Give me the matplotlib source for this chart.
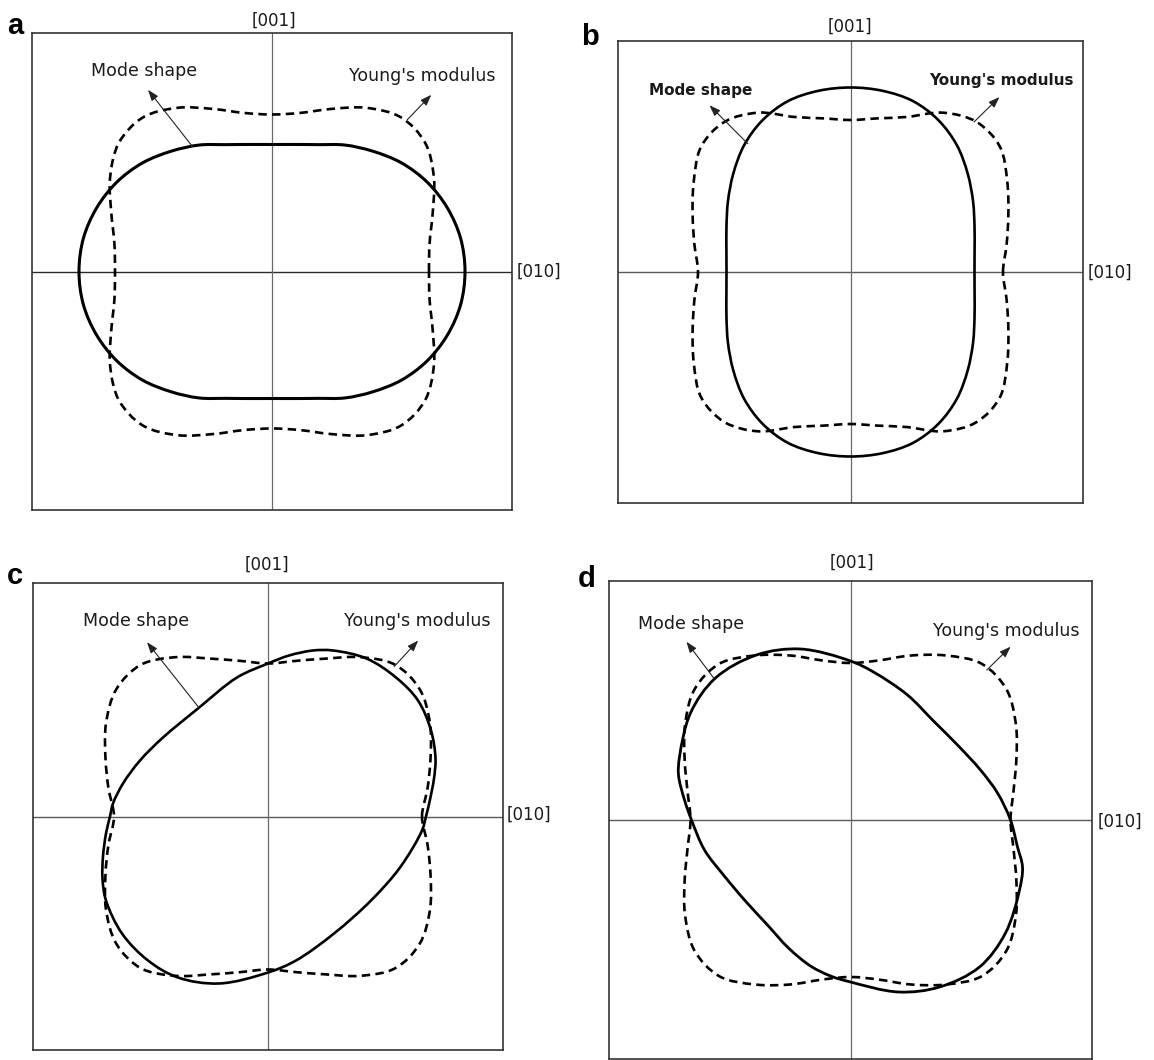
import numpy as np
import matplotlib
matplotlib.use("Agg")
import matplotlib.pyplot as plt
from matplotlib.path import Path
from matplotlib.patches import PathPatch

# ---------------- data (pixel-like units from panel centre) -------------
ANGLES_DEG = list(range(0, 360, 10))

# panel a : polar radii every 10 deg
A_MODE_R = [193, 191.5, 186.5, 179, 169, 157, 146, 135, 129, 127, 129, 135, 146, 157, 169, 179, 186.5, 191.5,
            193, 191.5, 186.5, 179, 169, 157, 146, 135, 129, 127, 129, 135, 146, 157, 169, 179, 186.5, 191.5]
A_YOUNG_R = [157, 160, 171, 187, 200, 201, 189, 173, 161, 157, 161, 173, 189, 201, 200, 187, 171, 160,
             157, 160, 171, 187, 200, 201, 189, 173, 161, 157, 161, 173, 189, 201, 200, 187, 171, 160]
# panel b
B_MODE_R = [124, 126, 132, 141.5, 153, 165.5, 175.5, 182, 184, 184.5, 184, 182, 175.5, 165.5, 153, 141.5, 132, 126,
            124, 126, 132, 141.5, 153, 165.5, 175.5, 182, 184, 184.5, 184, 182, 175.5, 165.5, 153, 141.5, 132, 126]
B_YOUNG_R = [152.5, 158.5, 168, 181, 195, 196, 184, 165, 156, 152, 156, 165, 184, 196, 195, 181, 168, 158.5,
             152.5, 158.5, 168, 181, 195, 196, 184, 165, 156, 152, 156, 165, 184, 196, 195, 181, 168, 158.5]
# panel c
C_MODE_X = [158, 162, 166, 167.5, 163, 150, 128, 98.5, 65, 45, 21, 0, -31, -70, -105, -128, -145, -155, -158,
            -162, -165, -165.5, -162, -146, -120, -90, -49, 0, 28, 66, 103, 132, 154]
C_MODE_Y = [0, 17, 38, 58, 86, 116, 139, 158, 166, 166, 161, 153, 139, 108, 79, 56, 33, 13, 0,
            -17, -40, -62, -84, -117, -144, -161, -167, -156, -144, -117, -84, -51, -14]
C_YOUNG_R = [154, 162, 173, 187, 198, 198, 184, 168, 158, 153, 158, 168, 184, 198, 198, 187, 173, 162,
             154, 162, 173, 187, 198, 198, 184, 168, 158, 153, 158, 168, 184, 198, 198, 187, 173, 162]
# panel d
D_MODE_X = [160, 147, 130, 107, 83, 57, 23, 0, -50, -94, -135, -160, -171, -172, -166, -159,
            -146, -127, -106, -83, -62, -40, -20, 0, 48, 89, 129, 155, 169, 172, 167]
D_MODE_Y = [0, 27, 50, 75, 99, 125, 148, 159, 171, 165, 142, 107, 63, 45, 20, 0,
            -30, -55, -80, -105, -128, -146, -156, -162, -172, -167, -147, -113, -70, -47, -27]
D_YOUNG_R = [160, 165.5, 176.5, 191, 203.5, 204, 190, 175, 162, 157, 162, 175, 190, 204, 203.5, 191, 176.5, 165.5,
             160, 165.5, 176.5, 191, 203.5, 204, 190, 175, 162, 157, 162, 175, 190, 204, 203.5, 191, 176.5, 165.5]

PANEL_LABELS = ["a", "b", "c", "d"]
AXIS_TOP_LABEL = "[001]"
AXIS_RIGHT_LABEL = "[010]"
MODE_TEXT = "Mode shape"
YOUNG_TEXT = "Young's modulus"

# ---------------- layout ----------------
W, H = 1154, 1060
fig = plt.figure(figsize=(W / 100, H / 100), dpi=100)
fig.patch.set_facecolor("white")


def polar_xy(r):
    th = np.deg2rad(np.array(ANGLES_DEG, dtype=float))
    r = np.array(r, dtype=float)
    return r * np.cos(th), r * np.sin(th)


def smooth_closed_path(xs, ys, alpha=0.5):
    """Closed centripetal Catmull-Rom curve through the points, as cubic Bezier segments."""
    P = np.column_stack([xs, ys]).astype(float)
    n = len(P)
    verts = [P[0]]
    codes = [Path.MOVETO]
    for i in range(n):
        p0, p1, p2, p3 = P[(i - 1) % n], P[i], P[(i + 1) % n], P[(i + 2) % n]
        d01 = max(np.linalg.norm(p1 - p0) ** alpha, 1e-6)
        d12 = max(np.linalg.norm(p2 - p1) ** alpha, 1e-6)
        d23 = max(np.linalg.norm(p3 - p2) ** alpha, 1e-6)
        m1 = (p2 - p1) + d12 * ((p1 - p0) / d01 - (p2 - p0) / (d01 + d12))
        m2 = (p2 - p1) + d12 * ((p3 - p2) / d23 - (p3 - p1) / (d12 + d23))
        verts += [p1 + m1 / 3.0, p2 - m2 / 3.0, p2]
        codes += [Path.CURVE4] * 3
    return Path(np.array(verts), codes)


# panel geometry in pixels: left, top, right, bottom
BOXES = {
    "a": (32, 33, 512, 510),
    "b": (618, 41, 1083, 503),
    "c": (33, 583, 503, 1050),
    "d": (609, 581, 1092, 1059),
}

panels = {
    "a": dict(mode=polar_xy(A_MODE_R), young=polar_xy(A_YOUNG_R), bold=False,
              mode_tail=(-79.6, 125), mode_head=(-124, 181.7),
              young_tail=(135.2, 151.7), young_head=(159.3, 176.7),
              label_xy=(7, 34), top_xy=(274, 21), right_xy=(517, 272),
              mode_txt=(144.5, 76), young_txt=(422, 81), lw=2.2, hcol="#2a2a2a"),
    "b": dict(mode=polar_xy(B_MODE_R), young=polar_xy(B_YOUNG_R), bold=True,
              mode_tail=(-102.7, 128.3), mode_head=(-141, 166.7),
              young_tail=(123.5, 150), young_head=(149, 175),
              label_xy=(581, 45), top_xy=(850, 27), right_xy=(1088, 273),
              mode_txt=(701, 95), young_txt=(1001, 85), lw=1.9, hcol="#5a5a5a"),
    "c": dict(mode=(C_MODE_X, C_MODE_Y), young=polar_xy(C_YOUNG_R), bold=False,
              mode_tail=(-69.4, 109.3), mode_head=(-121, 174.3),
              young_tail=(126.2, 150), young_head=(150.2, 176),
              label_xy=(7, 584), top_xy=(267, 565), right_xy=(507, 815),
              mode_txt=(136.5, 626), young_txt=(417, 626), lw=1.9, hcol="#5a5a5a"),
    "d": dict(mode=(D_MODE_X, D_MODE_Y), young=polar_xy(D_YOUNG_R), bold=False,
              mode_tail=(-136.6, 141.7), mode_head=(-164.1, 178.3),
              young_tail=(136.3, 150), young_head=(160.1, 173.3),
              label_xy=(578, 587), top_xy=(852, 563), right_xy=(1098, 822),
              mode_txt=(691, 629), young_txt=(1006, 636), lw=2.0, hcol="#5a5a5a"),
}

TXT_COLOR = "#1a1a1a"


def fx(x):
    return x / W


def fy(y):
    return 1 - y / H


for key in PANEL_LABELS:
    L, T, R, B = BOXES[key]
    cfg = panels[key]
    ax = fig.add_axes([fx(L), fy(B), (R - L) / W, (B - T) / H])
    hw, hh = (R - L) / 2, (B - T) / 2
    ax.set_xlim(-hw, hw)
    ax.set_ylim(-hh, hh)
    ax.set_xticks([])
    ax.set_yticks([])
    for sp in ax.spines.values():
        sp.set_color("#333333")
        sp.set_linewidth(1.2)
    ax.axhline(0, color=cfg["hcol"], lw=1.0, zorder=1)
    ax.axvline(0, color="#6a6a6a", lw=0.9, zorder=1)

    # Young's modulus (dashed)
    yx, yy = cfg["young"]
    ax.add_patch(PathPatch(smooth_closed_path(yx, yy), fill=False, edgecolor="black",
                           lw=1.9, linestyle=(0, (3.2, 2.0)), zorder=3, capstyle="butt"))
    # Mode shape (solid)
    mx, my = cfg["mode"]
    ax.add_patch(PathPatch(smooth_closed_path(mx, my), fill=False, edgecolor="black",
                           lw=cfg["lw"], zorder=4))

    arrow_kw = dict(arrowstyle="-|>,head_length=0.55,head_width=0.2", lw=0.8,
                    color="#222222", shrinkA=0, shrinkB=0, mutation_scale=12)
    ax.annotate("", xy=cfg["mode_head"], xytext=cfg["mode_tail"], arrowprops=arrow_kw, zorder=5)
    ax.annotate("", xy=cfg["young_head"], xytext=cfg["young_tail"], arrowprops=arrow_kw, zorder=5)

    # texts
    fig.text(fx(cfg["label_xy"][0]), fy(cfg["label_xy"][1]), key, fontsize=21, fontweight="bold",
             family=["Liberation Sans", "DejaVu Sans"], ha="left", va="baseline", color="black")
    fig.text(fx(cfg["top_xy"][0]), fy(cfg["top_xy"][1]), AXIS_TOP_LABEL, fontsize=12,
             ha="center", va="center", color=TXT_COLOR)
    fig.text(fx(cfg["right_xy"][0]), fy(cfg["right_xy"][1]), AXIS_RIGHT_LABEL, fontsize=12,
             ha="left", va="center", color=TXT_COLOR)
    if cfg["bold"]:
        tkw = dict(fontsize=11, fontweight="bold")
    else:
        tkw = dict(fontsize=12.5)
    fig.text(fx(cfg["mode_txt"][0]), fy(cfg["mode_txt"][1]), MODE_TEXT, ha="center",
             va="baseline", color=TXT_COLOR, **tkw)
    fig.text(fx(cfg["young_txt"][0]), fy(cfg["young_txt"][1]), YOUNG_TEXT, ha="center",
             va="baseline", color=TXT_COLOR, **tkw)

fig.savefig("out.png", dpi=100, facecolor="white")
